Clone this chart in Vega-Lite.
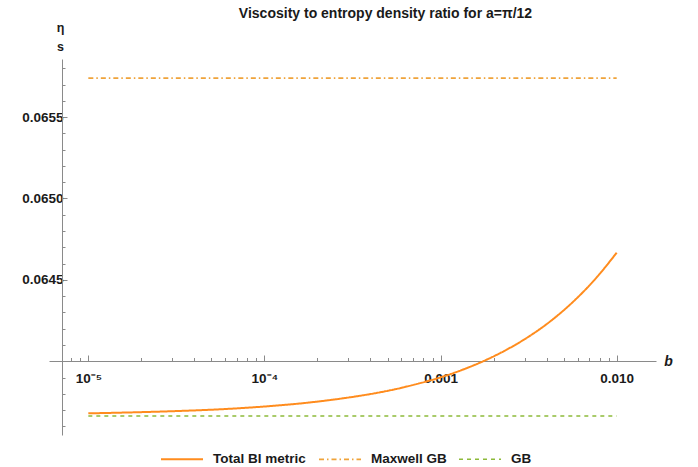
{
  "$schema": "https://vega.github.io/schema/vega-lite/v6.json",
  "autosize": {"type": "none"},
  "width": 607,
  "height": 376,
  "padding": {"left": 49, "top": 59, "right": 42, "bottom": 32},
  "background": "white",
  "title": {
    "text": "Viscosity to entropy density ratio for a=π/12",
    "frame": "group",
    "anchor": "middle",
    "dx": 33,
    "offset": 0,
    "font": "Liberation Sans",
    "fontSize": 14,
    "fontWeight": "bold",
    "color": "#1a1a1a"
  },
  "config": {
    "view": {"stroke": null},
    "axis": {"grid": false, "domainColor": "#8a8a8a", "tickColor": "#8a8a8a", "labelFont": "Liberation Sans", "labelFontSize": 13.5, "labelFontWeight": "bold", "labelColor": "#1a1a1a", "titleFont": "Liberation Sans", "titleColor": "#1a1a1a"}
  },
  "datasets": {
    "curves": [
      {"b": 0.00001, "v": 0.063680, "series": "Total BI metric"},
      {"b": 0.00001778, "v": 0.063686, "series": "Total BI metric"},
      {"b": 0.00003162, "v": 0.063694, "series": "Total BI metric"},
      {"b": 0.00005623, "v": 0.063705, "series": "Total BI metric"},
      {"b": 0.0001, "v": 0.063722, "series": "Total BI metric"},
      {"b": 0.0001778, "v": 0.063746, "series": "Total BI metric"},
      {"b": 0.0003162, "v": 0.063781, "series": "Total BI metric"},
      {"b": 0.0004217, "v": 0.063803, "series": "Total BI metric"},
      {"b": 0.0005623, "v": 0.063830, "series": "Total BI metric"},
      {"b": 0.0007499, "v": 0.063863, "series": "Total BI metric"},
      {"b": 0.001, "v": 0.063901, "series": "Total BI metric"},
      {"b": 0.001334, "v": 0.063948, "series": "Total BI metric"},
      {"b": 0.001778, "v": 0.064004, "series": "Total BI metric"},
      {"b": 0.002371, "v": 0.064071, "series": "Total BI metric"},
      {"b": 0.003162, "v": 0.064151, "series": "Total BI metric"},
      {"b": 0.004217, "v": 0.064247, "series": "Total BI metric"},
      {"b": 0.005623, "v": 0.064363, "series": "Total BI metric"},
      {"b": 0.007499, "v": 0.064501, "series": "Total BI metric"},
      {"b": 0.01, "v": 0.064667, "series": "Total BI metric"},
      {"b": 0.00001, "v": 0.065739, "series": "Maxwell GB"},
      {"b": 0.01, "v": 0.065739, "series": "Maxwell GB"},
      {"b": 0.00001, "v": 0.063663, "series": "GB"},
      {"b": 0.01, "v": 0.063663, "series": "GB"}
    ]
  },
  "data": {"name": "curves"},
  "resolve": {"scale": {"x": "shared", "y": "shared"}, "axis": {"x": "independent", "y": "independent"}},
  "layer": [
    {
      "mark": {"type": "line", "strokeOpacity": 0},
      "encoding": {
        "x": {
          "field": "b", "type": "quantitative",
          "scale": {"type": "log", "domain": [0.00000598, 0.01672], "nice": false},
          "axis": {"orient": "bottom", "offset": -74, "domain": false, "labels": false, "title": null, "tickSize": -3.5,
            "values": [0.000008, 0.000009, 0.00002, 0.00003, 0.00004, 0.00005, 0.00006, 0.00007, 0.00008, 0.00009, 0.0002, 0.0003, 0.0004, 0.0005, 0.0006, 0.0007, 0.0008, 0.0009, 0.002, 0.003, 0.004, 0.005, 0.006, 0.007, 0.008, 0.009]}
        },
        "y": {
          "field": "v", "type": "quantitative",
          "scale": {"domain": [0.063547, 0.065857], "zero": false, "nice": false},
          "axis": {"orient": "left", "offset": -13, "domain": false, "labels": false, "title": null, "tickSize": -3,
            "values": [0.0636, 0.0637, 0.0638, 0.0639, 0.0641, 0.0642, 0.0643, 0.0644, 0.0646, 0.0647, 0.0648, 0.0649, 0.0651, 0.0652, 0.0653, 0.0654, 0.0656, 0.0657, 0.0658]}
        },
        "detail": {"field": "series"}
      }
    },
    {
      "mark": {"type": "line", "clip": true, "interpolate": "monotone"},
      "encoding": {
        "x": {
          "field": "b", "type": "quantitative",
          "axis": {"orient": "bottom", "offset": -74, "values": [0.00001, 0.0001, 0.001, 0.01], "tickSize": -6, "labelPadding": 16,
            "labelFontSize": 13.5, "labelFontWeight": "bold",
            "labelExpr": "datum.value < 0.00005 ? '10⁻⁵' : datum.value < 0.0005 ? '10⁻⁴' : datum.value < 0.005 ? '0.001' : '0.010'",
            "title": "b", "titleX": 619, "titleY": 0, "titleBaseline": "middle", "titleAlign": "center", "titleFontStyle": "italic", "titleFontWeight": "bold", "titleFontSize": 14}
        },
        "y": {
          "field": "v", "type": "quantitative",
          "axis": {"orient": "left", "offset": -13, "values": [0.0645, 0.065, 0.0655], "format": ".4f", "tickSize": -5, "labelPadding": 4,
            "labelFontSize": 13.5, "labelFontWeight": "bold",
            "title": ["η", "s"], "titleAngle": 0, "titleAlign": "center", "titleBaseline": "alphabetic", "titleX": -2, "titleY": -28, "titleLineHeight": 19, "titleFontSize": 12.5, "titleFontWeight": "bold"}
        },
        "color": {
          "field": "series", "type": "nominal",
          "scale": {"domain": ["Total BI metric", "Maxwell GB", "GB"], "range": ["#FF8C1E", "#EFA33A", "#8DBA3A"]},
          "legend": {"orient": "none", "legendX": 111, "legendY": 378, "direction": "horizontal", "title": null,
            "symbolType": "stroke", "symbolSize": 1764, "symbolStrokeWidth": 1.6, "labelFont": "Liberation Sans", "labelFontSize": 13.5, "labelFontWeight": "bold", "labelColor": "#1a1a1a", "labelOffset": 9, "columnPadding": 9}
        },
        "strokeDash": {
          "field": "series", "type": "nominal",
          "scale": {"domain": ["Total BI metric", "Maxwell GB", "GB"], "range": [[1, 0], [5, 3, 1.5, 3], [4, 4]]}
        },
        "strokeWidth": {
          "field": "series", "type": "nominal",
          "scale": {"domain": ["Total BI metric", "Maxwell GB", "GB"], "range": [2, 1.5, 1.5]},
          "legend": null
        }
      }
    }
  ]
}
